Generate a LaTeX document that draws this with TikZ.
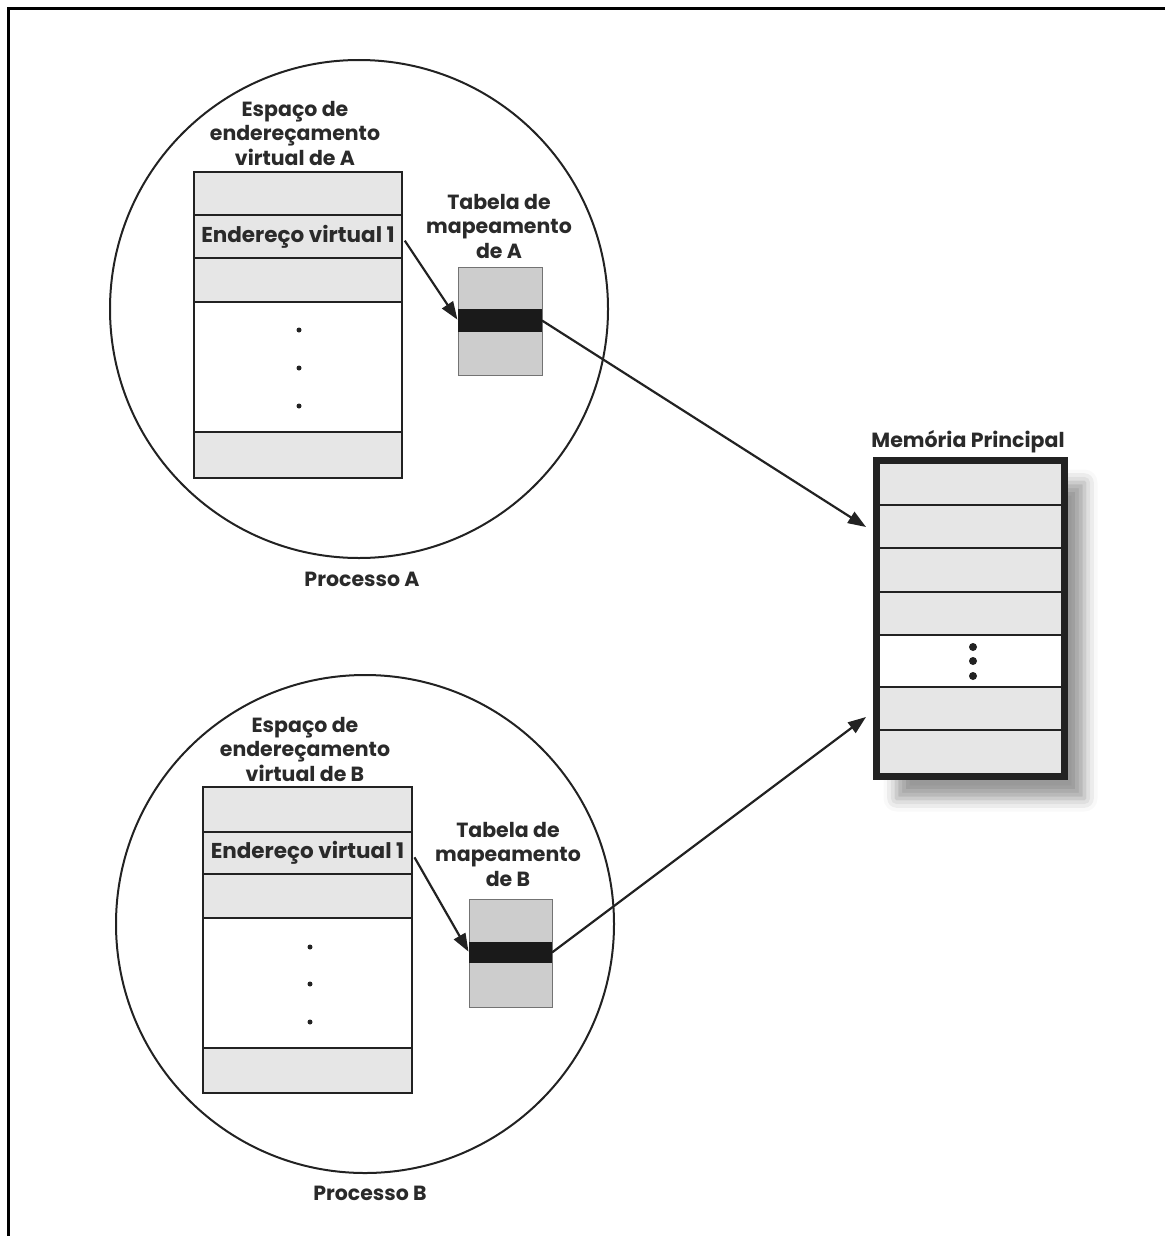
\documentclass[tikz,border=0pt]{standalone}
\usepackage{fontspec}
\setmainfont{Poppins}
\usetikzlibrary{arrows.meta,shadows.blur}
\definecolor{ink}{HTML}{222222}
\definecolor{cellgray}{HTML}{E6E6E6}
\definecolor{tablegray}{HTML}{CDCDCD}
\definecolor{bandblack}{HTML}{1A1A1A}
\definecolor{textgray}{HTML}{2A2A2A}

\begin{document}
\begin{tikzpicture}[x=1pt,y=-1pt,
  vcell/.style={draw=ink, line width=2.6pt, fill=cellgray, minimum width=#1,
    inner sep=0pt, outer sep=0pt},
  vblank/.style={vcell=#1, fill=white},
  maptable/.style={draw=black!55, line width=1pt, fill=tablegray,
    inner sep=0pt, outer sep=0pt},
  mapband/.style={fill=bandblack, inner sep=0pt, outer sep=0pt},
  proc/.style={draw=ink, line width=2pt, circle, inner sep=0pt},
  lbl/.style={align=center, text=textgray, inner sep=0pt,
    font=\fontsize{20.5}{24.5}\selectfont\bfseries},
  link/.style={draw=ink, line width=2.2pt, -{Triangle[length=18pt,width=13pt]}},
  dot/.style={fill=ink, circle, inner sep=0pt, minimum size=#1},
]
\useasboundingbox (0,0) rectangle (1165,1236);

% page frame: top and left rules
\draw[line width=3pt] (8,9) -- (1165,9);
\draw[line width=3pt] (8,7.5) -- (8,1236);

% ---------------- process A ----------------
\node[proc, minimum size=498pt] (circA) at (359,309) {};
\node[lbl] (vasAlbl) at (295,133) {Espaço de\\endereçamento\\virtual de A};
\node[vcell=208pt, minimum height=43pt] (A1) at (298,193.5) {};
\node[vcell=208pt, minimum height=43pt] (A2) at (298,236.5)
  {\textcolor{textgray}{\fontsize{21.5}{24}\selectfont\bfseries Endereço virtual 1}};
\node[vcell=208pt, minimum height=44pt] (A3) at (298,280) {};
\node[vblank=208pt, minimum height=130pt] (A4) at (298,367) {};
\node[vcell=208pt, minimum height=46pt] (A5) at (298,455) {};
\node[dot=5pt] (dA1) at (299,330) {};
\node[dot=5pt] (dA2) at (299,368) {};
\node[dot=5pt] (dA3) at (299,406) {};

\node[lbl] (tabAlbl) at (499,226) {Tabela de\\mapeamento\\de A};
\node[maptable, minimum width=84pt, minimum height=108pt] (tabA) at (500,321) {};
\node[mapband, minimum width=84pt, minimum height=23pt] (bandA) at (500,320.5) {};
\node[lbl] (procA) at (362,579) {Processo A};

% ---------------- process B ----------------
\node[proc, minimum size=498pt] (circB) at (365,924) {};
\node[lbl] (vasBlbl) at (305,749) {Espaço de\\endereçamento\\virtual de B};
\node[vcell=209pt, minimum height=45pt] (B1) at (307.5,809.5) {};
\node[vcell=209pt, minimum height=42pt] (B2) at (307.5,853)
  {\textcolor{textgray}{\fontsize{21.5}{24}\selectfont\bfseries Endereço virtual 1}};
\node[vcell=209pt, minimum height=44pt] (B3) at (307.5,896) {};
\node[vblank=209pt, minimum height=130pt] (B4) at (307.5,983) {};
\node[vcell=209pt, minimum height=45pt] (B5) at (307.5,1070.5) {};
\node[dot=5pt] (dB1) at (310,947) {};
\node[dot=5pt] (dB2) at (310,984) {};
\node[dot=5pt] (dB3) at (310,1022) {};

\node[lbl] (tabBlbl) at (508,854) {Tabela de\\mapeamento\\de B};
\node[maptable, minimum width=83pt, minimum height=108pt] (tabB) at (510.5,953) {};
\node[mapband, minimum width=83pt, minimum height=21pt] (bandB) at (510.5,952.5) {};
\node[lbl] (procB) at (370,1193) {Processo B};

% ---------------- main memory ----------------
\node[lbl] (memlbl) at (968,442) {Memória Principal};
\node[fill=cellgray, inner sep=0pt, minimum width=188pt, minimum height=316pt,
  blur shadow={shadow xshift=20pt, shadow yshift=-22pt,
    shadow blur radius=13pt, shadow opacity=40}] (membg) at (970.5,618.5) {};
\fill[white] (878,635) rectangle (1063,687);
\foreach \yy in {505,548,592,635,687,730}
  \draw[ink, line width=2.6pt] (877,\yy) -- (1064,\yy);
\node[draw=ink, line width=7pt, inner sep=0pt, minimum width=188pt,
  minimum height=316pt] (mem) at (970.5,618.5) {};
\node[dot=8pt] (dM1) at (973,647) {};
\node[dot=8pt] (dM2) at (973,661) {};
\node[dot=8pt] (dM3) at (973,676) {};
\coordinate (inA) at (866,527);
\coordinate (inB) at (866,717);

% ---------------- mappings ----------------
\draw[link, shorten <=5pt, shorten >=1pt] (A2.east) -- (bandA.west);
\draw[link] (bandA.east) -- (inA);
\draw[link, shorten <=5pt, shorten >=1pt] (B2.east) -- (bandB.west);
\draw[link] (bandB.east) -- (inB);
\end{tikzpicture}
\end{document}
